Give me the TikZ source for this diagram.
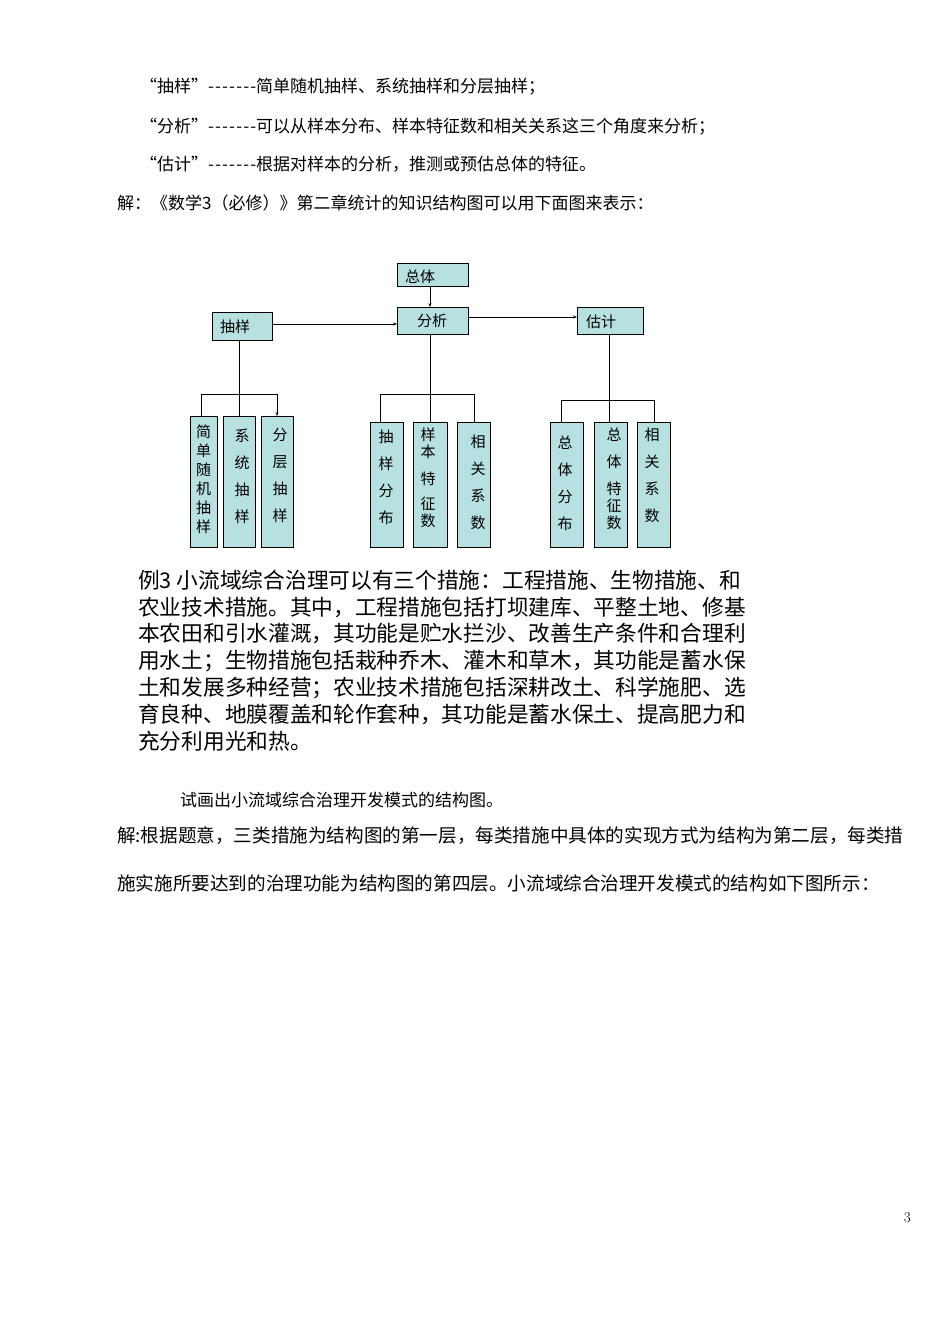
\documentclass[tikz,border=0pt]{standalone}
\usepackage{fontspec}
\usetikzlibrary{arrows.meta}
\newfontfamily\cjk{Noto Sans CJK SC}
\definecolor{boxfill}{RGB}{183,224,224}
\newcommand\dsh{\makebox[48pt][s]{-\hfill-\hfill-\hfill-\hfill-\hfill-\hfill-}}
\begin{document}
\begin{tikzpicture}[x=1pt,y=-1pt,
  bx/.style={draw=black,line width=1.1pt,fill=boxfill,anchor=north west,inner sep=0pt},
  lbl/.style={font=\cjk\fontsize{15}{17}\selectfont},
  ln/.style={line width=0.8pt},
  ar/.style={line width=0.8pt,-{Stealth[length=4pt,width=3pt]}},
  tx/.style={anchor=west,inner sep=0pt,font=\cjk\fontsize{17}{20}\selectfont},
  tw/.style={anchor=west,inner sep=0pt,font=\cjk\fontsize{18.6}{20}\selectfont},
  big/.style={anchor=west,inner sep=0pt,font=\cjk\fontsize{21.7}{24}\selectfont}]
\useasboundingbox (0,0) rectangle (950,1342);
\fill[white] (0,0) rectangle (950,1342);
% text above
\node[tx] (t1) at (140,87) {“抽样”\dsh 简单随机抽样、系统抽样和分层抽样；};
\node[tx] (t2) at (140,127) {“分析”\dsh 可以从样本分布、样本特征数和相关关系这三个角度来分析；};
\node[tx] (t3) at (140,164) {“估计”\dsh 根据对样本的分析，推测或预估总体的特征。};
\node[tx] (t4) at (117,203) {解：《数学3（必修）》第二章统计的知识结构图可以用下面图来表示：};
% boxes
\node[bx,minimum width=71pt,minimum height=23pt] (zt) at (397,263) {};
\node[lbl] at (420,277) {总体};
\node[bx,minimum width=71pt,minimum height=27pt] (fx) at (397,307) {};
\node[lbl] at (432,321) {分析};
\node[bx,minimum width=60pt,minimum height=28pt] (cy) at (212,312) {};
\node[lbl] at (235,327) {抽样};
\node[bx,minimum width=66pt,minimum height=27pt] (gj) at (577,307) {};
\node[lbl] at (601,322) {估计};
% leaves
\newcommand\leaf[6]{\node[bx,minimum width=#3pt,minimum height=#4pt] (#1) at (#2) {};
  \node[lbl,align=center,anchor=north] at (#5) {#6};}
\leaf{a1}{190,416}{27}{131}{203.5,421}{简\\[2pt]单\\[2pt]随\\[2pt]机\\[2pt]抽\\[2pt]样}
\leaf{a2}{223,416}{32}{131}{242,425}{系\\[10pt]统\\[10pt]抽\\[10pt]样}
\leaf{a3}{261,416}{32}{131}{280,425}{分\\[10pt]层\\[10pt]抽\\[10pt]样}
\leaf{b1}{370,422}{33}{125}{386,426}{抽\\[10pt]样\\[10pt]分\\[10pt]布}
\leaf{b2}{413,422}{34}{125}{428,424}{样\\[0pt]本\\[10pt]特\\[8pt]征\\[0pt]数}
\leaf{b3}{457,422}{33}{125}{478,431}{相\\[10pt]关\\[10pt]系\\[10pt]数}
\leaf{c1}{550,422}{33}{125}{565,432}{总\\[10pt]体\\[10pt]分\\[10pt]布}
\leaf{c2}{594,422}{33}{125}{614,424}{总\\[10pt]体\\[10pt]特\\[0pt]征\\[0pt]数}
\leaf{c3}{637,422}{33}{125}{652,424}{相\\[10pt]关\\[10pt]系\\[10pt]数}
% connectors
\draw[ar] (430,286) -- (430,307);
\draw[ar] (cy.east |- 0,324) -- (fx.west |- 0,324);
\draw[ar] (fx.east |- 0,317) -- (gj.west |- 0,317);
\draw[ln] (239,340) -- (239,416);
\draw[ln] (201,416) -- (201,394) -- (277,394);
\draw[ar] (277,394) -- (277,416);
\draw[ln] (430,334) -- (430,422);
\draw[ln] (380,422) -- (380,394) -- (474,394) -- (474,422);
\draw[ln] (609,334) -- (609,422);
\draw[ln] (561,422) -- (561,400) -- (654,400) -- (654,422);
% example paragraph
\node[big] (p1) at (138,580) {例3 小流域综合治理可以有三个措施：工程措施、生物措施、和};
\node[big] (p2) at (138,607) {农业技术措施。其中，工程措施包括打坝建库、平整土地、修基};
\node[big] (p3) at (138,634) {本农田和引水灌溉，其功能是贮水拦沙、改善生产条件和合理利};
\node[big] (p4) at (138,661) {用水土；生物措施包括栽种乔木、灌木和草木，其功能是蓄水保};
\node[big] (p5) at (138,688) {土和发展多种经营；农业技术措施包括深耕改土、科学施肥、选};
\node[big] (p6) at (138,714) {育良种、地膜覆盖和轮作套种，其功能是蓄水保土、提高肥力和};
\node[big] (p7) at (138,741) {充分利用光和热。};
\node[tx] (q1) at (180,800) {试画出小流域综合治理开发模式的结构图。};
\node[tw] (q2) at (117,836) {解:根据题意，三类措施为结构图的第一层，每类措施中具体的实现方式为结构为第二层，每类措};
\node[tw] (q3) at (117,883) {施实施所要达到的治理功能为结构图的第四层。小流域综合治理开发模式的结构如下图所示：};
\node[anchor=east,inner sep=0pt,font=\fontsize{15}{18}\selectfont] (pg) at (911,1218) {3};
\end{tikzpicture}
\end{document}
